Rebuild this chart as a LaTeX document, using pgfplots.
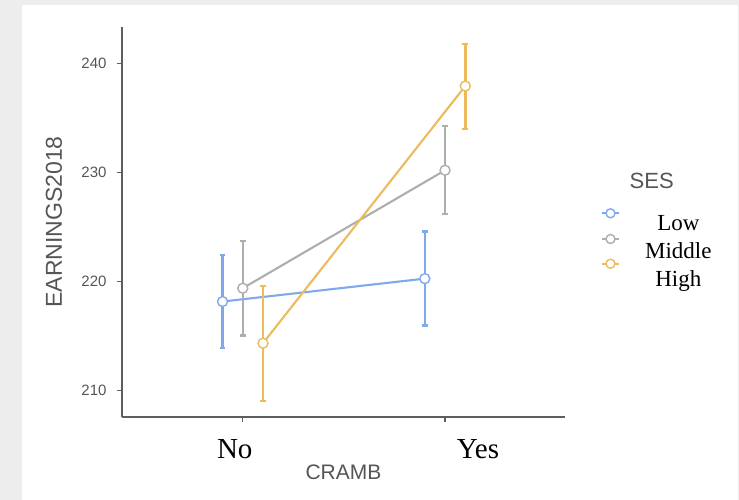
\documentclass[border=0pt]{standalone}
\usepackage{fontspec}
\setmainfont{Liberation Serif}
\newfontfamily\arial{Liberation Sans}
\usepackage{pgfplots}
\pgfplotsset{compat=1.18}
\definecolor{lowc}{HTML}{7FA9EC}
\definecolor{midc}{HTML}{AEAEAE}
\definecolor{highc}{HTML}{EDBA5C}
\definecolor{axc}{HTML}{5E5E5E}
\definecolor{txc}{HTML}{555555}
\definecolor{bgc}{HTML}{EDEDED}
\begin{document}
\begin{tikzpicture}[x=1pt,y=1pt]
\fill[bgc] (0,0) rectangle (739,500);
\fill[white] (22,0) rectangle (738,495);
\path[use as bounding box] (0,0) rectangle (739,500);
\begin{axis}[
  at={(122pt,83pt)}, anchor=south west,
  scale only axis, width=443pt, height=390pt,
  xmin=0.403, xmax=2.593, ymin=207.59, ymax=243.33,
  clip=false,
  axis x line*=bottom, axis y line*=left,
  axis line style={axc, line width=1.4pt, -},
  xtick={1,2}, xticklabels={{No\hspace*{16pt}},{\hspace*{66pt}Yes}},
  ytick={210,220,230,240},
  tick align=outside, major tick length=5pt,
  tick style={axc, line width=1.3pt},
  /pgf/number format/assume math mode=true,
  yticklabel style={font=\arial\fontsize{15}{15}\selectfont, text=txc, inner sep=0pt, anchor=east, xshift=-10.3pt},
  xticklabel style={font=\fontsize{29}{29}\selectfont, text=black, inner sep=0pt, anchor=base, yshift=-37pt},
  xlabel={CRAMB},
  xlabel style={at={(axis description cs:0.5,-0.1423)}, anchor=center, font=\arial\fontsize{21}{21}\selectfont, text=txc, inner sep=0pt},
  ylabel={EARNINGS2018},
  ylabel style={at={(axis description cs:-0.1535,0.5)}, anchor=center, font=\arial\fontsize{23}{23}\selectfont, text=txc, inner sep=0pt},
  legend cell align=center,
  legend style={draw=none, fill=none, inner sep=0pt, outer sep=0pt,
    at={(1.0829,0.52)}, anchor=north west, row sep=7pt, column sep=25.8pt,
    font=\fontsize{23}{23}\selectfont,
    nodes={inner sep=0pt, text height=16pt, text depth=5pt}},
  error bars/y dir=both, error bars/y explicit,
]
\addplot[lowc, line width=2.1pt, mark=*, mark size=5pt,
  mark options={fill=white, draw=lowc, line width=1.4pt},
  error bars/error bar style={lowc, line width=2.5pt},
  error bars/error mark options={lowc, rotate=90, mark size=2.8pt, line width=2.2pt},
  legend image code/.code={
    \draw[overlay, lowc, line width=2.2pt] (0pt,11.4pt) -- (17.6pt,11.4pt);
    \draw[overlay, lowc, line width=1.4pt, fill=white] (8.8pt,11.4pt) circle (4.5pt);
    \path[draw=none, fill=none] (0pt,0pt) -- (17.6pt,0pt);}]
  table[x=x, y=y, y error plus=ep, y error minus=em] {
x y ep em
0.9 218.17 4.25 4.27
1.9 220.27 4.31 4.30
};
\addlegendentry{Low}
\addplot[midc, line width=2.1pt, mark=*, mark size=5pt,
  mark options={fill=white, draw=midc, line width=1.4pt},
  error bars/error bar style={midc, line width=2.5pt},
  error bars/error mark options={midc, rotate=90, mark size=2.8pt, line width=2.2pt},
  legend image code/.code={
    \draw[overlay, midc, line width=2.2pt] (0pt,13.7pt) -- (17.6pt,13.7pt);
    \draw[overlay, midc, line width=1.4pt, fill=white] (8.8pt,13.7pt) circle (4.5pt);
    \path[draw=none, fill=none] (0pt,0pt) -- (17.6pt,0pt);}]
  table[x=x, y=y, y error plus=ep, y error minus=em] {
x y ep em
1.0 219.39 4.34 4.34
2.0 230.20 4.08 4.00
};
\addlegendentry{Middle}
\addplot[highc, line width=2.1pt, mark=*, mark size=5pt,
  mark options={fill=white, draw=highc, line width=1.4pt},
  error bars/error bar style={highc, line width=2.5pt},
  error bars/error mark options={highc, rotate=90, mark size=2.8pt, line width=2.2pt},
  legend image code/.code={
    \draw[overlay, highc, line width=2.2pt] (0pt,17pt) -- (17.6pt,17pt);
    \draw[overlay, highc, line width=1.4pt, fill=white] (8.8pt,17pt) circle (4.5pt);
    \path[draw=none, fill=none] (0pt,0pt) -- (17.6pt,0pt);}]
  table[x=x, y=y, y error plus=ep, y error minus=em] {
x y ep em
1.1 214.35 5.25 5.27
2.1 237.92 3.85 3.92
};
\addlegendentry{High}
\end{axis}
\node[font=\arial\fontsize{22}{22}\selectfont, text=txc, inner sep=0pt] at (651.7,318.7) {SES};
\end{tikzpicture}
\end{document}
